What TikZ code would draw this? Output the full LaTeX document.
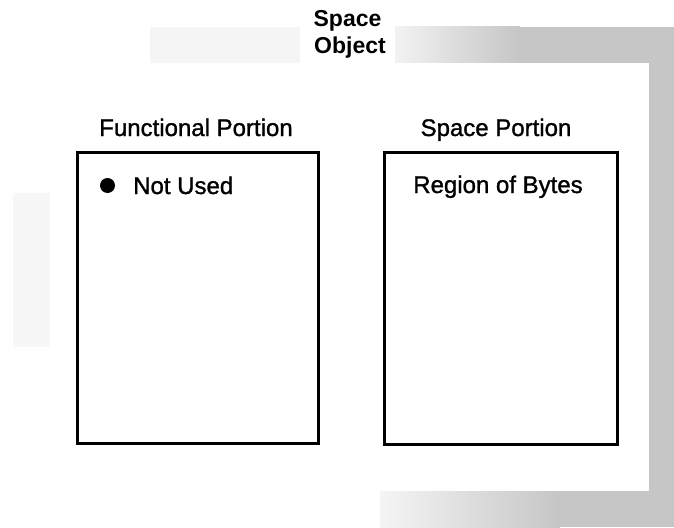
\documentclass[tikz,border=0pt]{standalone}
\usepackage{fontspec}
\setmainfont{Liberation Sans}
\newfontfamily\medfont[FakeBold=1.2]{Liberation Sans}
\begin{document}
\begin{tikzpicture}[x=1pt,y=-1pt,
  portion/.style={draw=black, line width=3pt, inner sep=0pt},
  lbl/.style={font=\medfont\fontsize{24}{28}\selectfont, anchor=base, inner sep=0pt},
  title/.style={font=\bfseries\fontsize{23}{27}\selectfont, anchor=base, inner sep=0pt},
  tone/.style={gray!45}
]
\useasboundingbox (0,0) rectangle (674,527);

% halftone frame around the object
\fill[tone] (649,27) rectangle (674,527);
\fill[tone] (520,27) rectangle (649,63);
\shade[left color=gray!10, right color=gray!45] (395,27) rectangle (520,63);
\fill[gray!8] (150,27) rectangle (300,63);
\fill[tone] (560,491) rectangle (649,527);
\shade[left color=gray!8, right color=gray!45] (380,491) rectangle (560,527);
\fill[gray!6] (13,193) rectangle (50,347);

% object caption
\node[title] (sp) at (347.5,27) {Space};
\node[title] (ob) at (350,53) {Object};

% the two portions
\node[portion, minimum width=241pt, minimum height=291pt] (fbox) at (197.5,297.5) {};
\node[portion, minimum width=233pt, minimum height=292pt] (sbox) at (500.5,298) {};

\node[lbl] (ftitle) at (196,136) {Functional Portion};
\node[lbl] (stitle) at (496,136) {Space Portion};

\node[circle, fill=black, inner sep=0pt, minimum size=15pt] (bul) at (107.5,185.5) {};
\node[lbl, anchor=base west] (nu) at (133,194) {Not Used};
\node[lbl] (rb) at (498,193) {Region of Bytes};
\end{tikzpicture}
\end{document}
